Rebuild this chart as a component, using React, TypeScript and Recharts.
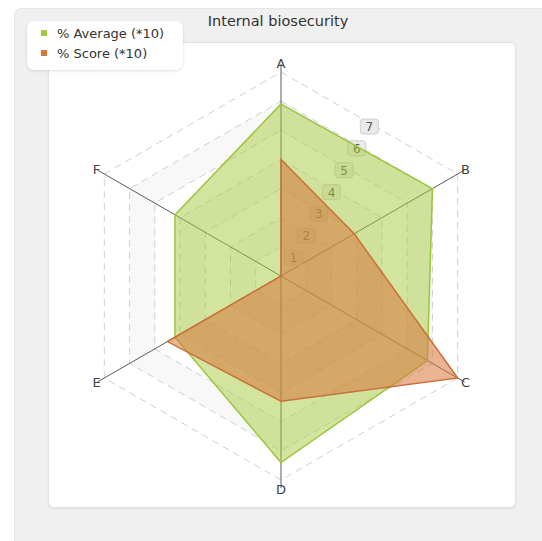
import React from 'react';
import { RadarChart, Radar, PolarGrid, PolarAngleAxis, PolarRadiusAxis, Legend } from 'recharts';

const categories = ['A', 'B', 'C', 'D', 'E', 'F'];
const averageValues = [5.9, 6.0, 5.8, 6.4, 4.2, 4.2];
const scoreValues = [4.0, 2.9, 7.0, 4.3, 4.5, 0];
const radiusTicks = [0, 1, 2, 3, 4, 5, 6, 7];
const seriesNames = ['% Average (*10)', '% Score (*10)'];
const title = 'Internal biosecurity';

const data = categories.map((c, i) => ({ category: c, average: averageValues[i], score: scoreValues[i] }));

const CX = 281;
const CY = 276;
const OUTER = 204;
const MAX = 7;

const GREEN = '#a6c93c';
const ORANGE = '#d9773a';

// alternating band fills, from outer ring level 6 down to 1
const bandLevels = [6, 5, 4, 3, 2, 1];
const bandFill = (level: number) => (level % 2 === 0 ? '#f8f8f8' : '#ffffff');

const RadiusTick = (props: any) => {
  const { x, y, payload } = props;
  if (!payload || payload.value === 0) return <g />;
  const k = Math.cos(Math.PI / 6);
  const tx = CX + (x - CX) * k;
  const ty = CY + (y - CY) * k + 4;
  return (
    <g>
      <rect x={tx - 9} y={ty - 8} width={18} height={15} rx={3} fill="#eaeaea" stroke="#cfcfcf" />
      <text x={tx} y={ty + 4} textAnchor="middle" fontSize={12} fill="#555" fontFamily="DejaVu Sans">
        {payload.value}
      </text>
    </g>
  );
};

const AngleTick = (props: any) => {
  const { x, y, payload } = props;
  const dx = x - CX;
  const dy = y - CY;
  const d = Math.sqrt(dx * dx + dy * dy) || 1;
  const r = 213;
  const tx = CX + (dx / d) * r;
  const ty = CY + (dy / d) * r;
  return (
    <text x={tx} y={ty} textAnchor="middle" dominantBaseline="central" fontSize={13} fill="#444" fontFamily="DejaVu Sans">
      {payload.value}
    </text>
  );
};

const LegendBox = () => (
  <div
    style={{
      width: 156,
      height: 49,
      background: '#ffffff',
      borderRadius: 7,
      boxShadow: '0 1px 3px rgba(0,0,0,0.12)',
      fontFamily: 'DejaVu Sans',
      fontSize: 13,
      color: '#333',
      position: 'relative',
    }}
  >
    {seriesNames.map((n, i) => (
      <div key={n} style={{ position: 'absolute', left: 14, top: 4 + i * 20, height: 16, display: 'flex', alignItems: 'center', whiteSpace: 'nowrap' }}>
        <span style={{ display: 'inline-block', width: 6, height: 6, background: i === 0 ? GREEN : ORANGE, marginRight: 10 }} />
        <span>{n}</span>
      </div>
    ))}
  </div>
);

export default function App() {
  return (
    <div style={{ position: 'absolute', left: 0, top: 0, width: 542, height: 541, background: '#ffffff', overflow: 'hidden' }}>
      <div style={{ position: 'absolute', left: 14, top: 8, right: 0, bottom: 0, background: '#f0f0f0', borderTopLeftRadius: 8, borderTop: '1px solid #e6e6e6', borderLeft: '1px solid #e6e6e6' }} />
      <div style={{ position: 'absolute', left: 48, top: 42, width: 468, height: 466, background: '#ffffff', borderRadius: 6, border: '1px solid #e3e3e3', boxSizing: 'border-box', boxShadow: '0 1px 2px rgba(0,0,0,0.08)' }} />
      <div style={{ position: 'absolute', left: 0, top: 13, width: 556, textAlign: 'center', fontFamily: 'DejaVu Sans', fontSize: 14.5, color: '#333' }}>
        {title}
      </div>
      {/* background layer: bands, grid, axes, radius labels */}
      <div style={{ position: 'absolute', left: 0, top: 0 }}>
        <RadarChart width={542} height={541} data={data} cx={CX} cy={CY} outerRadius={OUTER} startAngle={90} endAngle={-270} margin={{ top: 0, right: 0, bottom: 0, left: 0 }}>
          {bandLevels.map((lv) => (
            <PolarGrid key={lv} gridType="polygon" stroke="none" fill={bandFill(lv)} fillOpacity={1} radialLines={false} polarRadius={[(OUTER * lv) / MAX]} />
          ))}
          <PolarGrid gridType="polygon" stroke="#cfcfcf" strokeDasharray="7 5" radialLines={false} />
          <PolarGrid gridType="polygon" stroke="#5a5a5a" polarRadius={[]} />
          <PolarAngleAxis dataKey="category" axisLine={false} tickLine={{ stroke: '#5a5a5a' }} tick={<AngleTick />} />
          <PolarRadiusAxis angle={60} domain={[0, MAX]} ticks={radiusTicks as any} tickCount={8} axisLine={false} tickLine={false} tick={<RadiusTick />} />
          <Radar dataKey="average" stroke="none" fill="none" fillOpacity={0} strokeOpacity={0} isAnimationActive={false} dot={false} legendType="none" />
          <Radar dataKey="score" stroke="none" fill="none" fillOpacity={0} strokeOpacity={0} isAnimationActive={false} dot={false} legendType="none" />
        </RadarChart>
      </div>
      {/* foreground layer: series */}
      <div style={{ position: 'absolute', left: 0, top: 0 }}>
        <RadarChart width={542} height={541} data={data} cx={CX} cy={CY} outerRadius={OUTER} startAngle={90} endAngle={-270} margin={{ top: 0, right: 0, bottom: 0, left: 0 }}>
          <PolarAngleAxis dataKey="category" axisLine={false} tickLine={false} tick={false} />
          <PolarRadiusAxis angle={60} domain={[0, MAX]} tickCount={8} axisLine={false} tickLine={false} tick={false} />
          <Radar name={seriesNames[0]} dataKey="average" stroke="#9cc43c" strokeWidth={1.5} fill={GREEN} fillOpacity={0.5} isAnimationActive={false} dot={false} />
          <Radar name={seriesNames[1]} dataKey="score" stroke="#c8703a" strokeWidth={1.5} fill={ORANGE} fillOpacity={0.55} isAnimationActive={false} dot={false} />
          <Legend content={() => <LegendBox />} wrapperStyle={{ position: 'absolute', left: 27, top: 21, width: 156, height: 49 }} />
        </RadarChart>
      </div>
    </div>
  );
}
